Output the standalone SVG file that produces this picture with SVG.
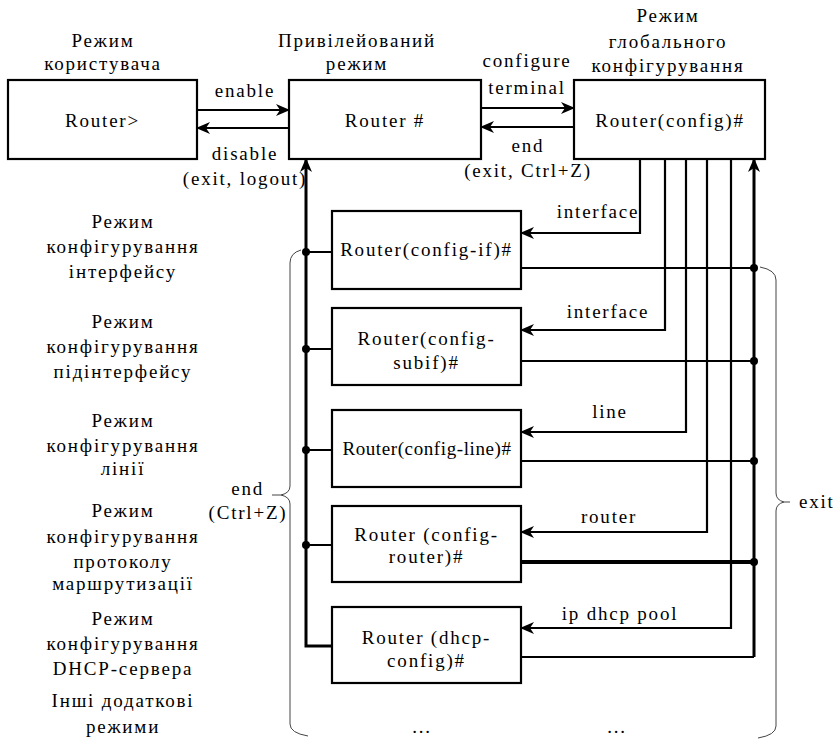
<svg xmlns="http://www.w3.org/2000/svg" width="840" height="746" viewBox="0 0 840 746">
<defs>
<marker id="ah" viewBox="0 0 14 12" refX="13" refY="6" markerWidth="14" markerHeight="12" markerUnits="userSpaceOnUse" orient="auto">
<path d="M0,0 L14,6 L0,12 L4,6 z" fill="#000"/>
</marker>
<style>
text{font-family:"Liberation Serif","Times New Roman",serif;font-size:19px;letter-spacing:1.8px;fill:#000;text-anchor:middle}
.box{fill:#fff;stroke:#000;stroke-width:2.2}
.c{fill:none;stroke:#000;stroke-width:2.2}
.bus{fill:none;stroke:#000;stroke-width:3}
.thick{fill:none;stroke:#000;stroke-width:4}
.br{fill:none;stroke:#444;stroke-width:1}
.dot{fill:#000}
</style>
</defs>
<rect width="840" height="746" fill="#fff"/>

<g id="labels-left">
<text x="103" y="47">Режим</text>
<text x="103" y="70">користувача</text>
<text x="357" y="47">Привілейований</text>
<text x="357" y="70">режим</text>
<text x="668" y="22">Режим</text>
<text x="668" y="48">глобального</text>
<text x="668" y="72">конфігурування</text>
<text x="123" y="228">Режим</text>
<text x="123" y="253">конфігурування</text>
<text x="123" y="278">інтерфейсу</text>
<text x="123" y="328">Режим</text>
<text x="123" y="353">конфігурування</text>
<text x="123" y="378">підінтерфейсу</text>
<text x="123" y="427">Режим</text>
<text x="123" y="452">конфігурування</text>
<text x="123" y="475">лінії</text>
<text x="123" y="517">Режим</text>
<text x="123" y="543">конфігурування</text>
<text x="123" y="568">протоколу</text>
<text x="123" y="590">маршрутизації</text>
<text x="123" y="625">Режим</text>
<text x="123" y="650">конфігурування</text>
<text x="123" y="675">DHCP-сервера</text>
<text x="123" y="707">Інші додаткові</text>
<text x="123" y="733">режими</text>
</g>

<g id="connectors">
<path class="c" d="M197,110 H289" marker-end="url(#ah)"/>
<path class="c" d="M289,128 H197" marker-end="url(#ah)"/>
<path class="c" d="M481,108 H574" marker-end="url(#ah)"/>
<path class="c" d="M574,127 H481" marker-end="url(#ah)"/>
<path class="bus" d="M332,646 H306 V159" marker-end="url(#ah)"/>
<path class="c" d="M306,252 H332 M306,349 H332 M306,450 H332 M306,545 H332"/>
<path class="c" d="M640,159 V233 H521" marker-end="url(#ah)"/>
<path class="c" d="M665,159 V330 H521" marker-end="url(#ah)"/>
<path class="c" d="M686,159 V432 H521" marker-end="url(#ah)"/>
<path class="c" d="M707,159 V532 H521" marker-end="url(#ah)"/>
<path class="c" d="M731,159 V628 H521" marker-end="url(#ah)"/>
<path class="c" d="M521,268 H754 M521,361 H754 M521,461 H754"/>
<path class="thick" d="M521,562 H754"/>
<path class="c" d="M521,657 H754"/>
<path class="bus" d="M754,657 V159" marker-end="url(#ah)"/>
<circle class="dot" cx="306" cy="252" r="4"/>
<circle class="dot" cx="306" cy="349" r="4"/>
<circle class="dot" cx="306" cy="450" r="4"/>
<circle class="dot" cx="306" cy="545" r="4"/>
<circle class="dot" cx="754" cy="268" r="4"/>
<circle class="dot" cx="754" cy="361" r="4"/>
<circle class="dot" cx="754" cy="461" r="4"/>
<circle class="dot" cx="754" cy="562" r="4"/>
<text x="245" y="97">enable</text>
<text x="245" y="160">disable</text>
<text x="245" y="185">(exit, logout)</text>
<text x="527" y="67">configure</text>
<text x="527" y="94">terminal</text>
<text x="528" y="152">end</text>
<text x="528" y="177">(exit, Ctrl+Z)</text>
<text x="598" y="218">interface</text>
<text x="608" y="318">interface</text>
<text x="610" y="418">line</text>
<text x="609" y="523">router</text>
<text x="620" y="620">ip dhcp pool</text>
</g>

<g id="braces">
<path class="br" d="M301,250 Q290,253 290,263 V486 Q290,493 281,495 L272,495 M281,495 Q290,497 290,504 V724 Q290,733 308,736"/>
<path class="br" d="M760,267 Q776,270 776,280 V493 Q776,500 784,502 L790,502 M784,502 Q776,504 776,511 V726 Q776,735 758,738"/>
<text x="264" y="495" style="text-anchor:end">end</text>
<text x="248" y="519">(Ctrl+Z)</text>
<text x="799" y="508" style="text-anchor:start">exit</text>
<text x="422" y="733">...</text>
<text x="617" y="733">...</text>
</g>

<g id="node-user">
<rect class="box" x="8" y="80" width="189" height="79"/>
<text x="102.5" y="127">Router&gt;</text>
</g>
<g id="node-priv">
<rect class="box" x="289" y="80" width="192" height="79"/>
<text x="385" y="127">Router #</text>
</g>
<g id="node-config">
<rect class="box" x="574" y="80" width="191" height="79"/>
<text x="670" y="127">Router(config)#</text>
</g>
<g id="node-if">
<rect class="box" x="332" y="211" width="189" height="78"/>
<text x="426.5" y="256">Router(config-if)#</text>
</g>
<g id="node-subif">
<rect class="box" x="332" y="308" width="189" height="77"/>
<text x="426.5" y="345">Router(config-</text>
<text x="426.5" y="369">subif)#</text>
</g>
<g id="node-line">
<rect class="box" x="332" y="410" width="189" height="77"/>
<text x="427" y="455" style="letter-spacing:0.6px">Router(config-line)#</text>
</g>
<g id="node-router">
<rect class="box" x="332" y="506" width="189" height="76"/>
<text x="426.5" y="541">Router (config-</text>
<text x="426.5" y="563">router)#</text>
</g>
<g id="node-dhcp">
<rect class="box" x="332" y="607" width="189" height="76"/>
<text x="426.5" y="644">Router (dhcp-</text>
<text x="426.5" y="667">config)#</text>
</g>
</svg>
